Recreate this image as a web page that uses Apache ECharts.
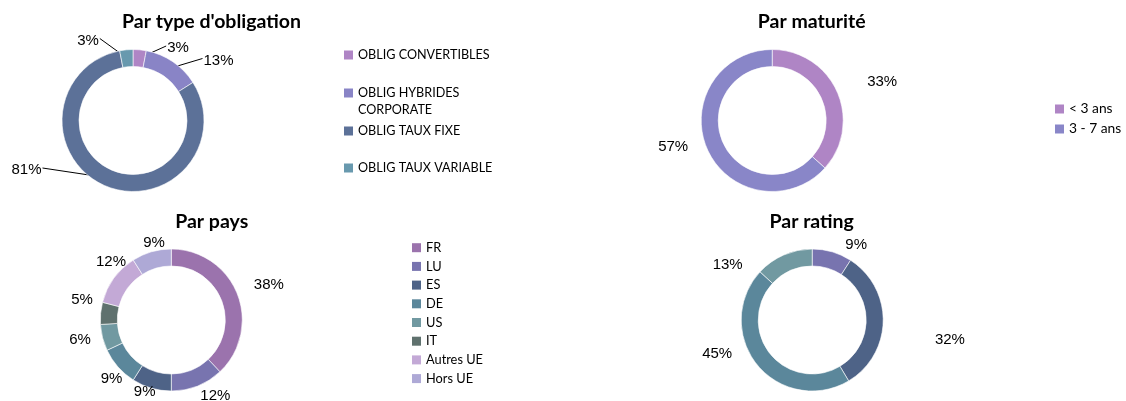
<!DOCTYPE html>
<html><head><meta charset="utf-8">
<script src="https://cdn.jsdelivr.net/npm/echarts@6/dist/echarts.min.js"></script>
<style>html,body{margin:0;padding:0;background:#fff}#c{width:1126px;height:401px}</style>
</head><body><div id="c"></div>
<script>
// ---------- DATA ----------
const typeCategories = ['OBLIG CONVERTIBLES', 'OBLIG HYBRIDES CORPORATE', 'OBLIG TAUX FIXE', 'OBLIG TAUX VARIABLE'];
const typeValues = [3, 13, 81, 3];
const maturityCategories = ['< 3 ans', '3 - 7 ans'];
const maturityValues = [33, 57];
const countryCategories = ['FR', 'LU', 'ES', 'DE', 'US', 'IT', 'Autres UE', 'Hors UE'];
const countryValues = [38, 12, 9, 9, 6, 5, 12, 9];
const ratingCategories = ['Catégorie 1', 'Catégorie 2', 'Catégorie 3', 'Catégorie 4'];
const ratingValues = [9, 32, 45, 13];

// ---------- STYLE ----------
const typeColors = ['#AF85C5', '#8984C6', '#5C7198', '#6899AE'];
const maturityColors = ['#AF85C5', '#8986C8'];
const countryColors = ['#9B73AD', '#7874AF', '#4E6387', '#5B879B', '#7199A1', '#5F716E', '#C3A9D6', '#AEA9D6'];
const ratingColors = ['#7874AF', '#4E6387', '#5B879B', '#7199A1'];

// ---------- LAYOUT (pie centres, label placement relative to centre) ----------
const PIES = [
  { center: [133, 120.5], leader: true,
    labelOffsets: [[45, -72.5], [85.5, -60], [-106.5, 49.5], [-45, -80]] },
  { center: [772.2, 120.5],
    labelOffsets: [[110, -38.8], [-99, 26.2]] },
  { center: [171.3, 320],
    labelOffsets: [[97.5, -35.3], [44, 75.5], [-26.6, 72], [-59.7, 59], [-91.3, 20], [-89.3, -20], [-60.3, -58], [-17.3, -77]] },
  { center: [812.2, 320],
    labelOffsets: [[44, -75], [137.7, 20], [-95, 34], [-84.5, -55]] }
];

const chart = echarts.init(document.getElementById('c'), null, { renderer: 'canvas' });

function makeLabelLayout(i) {
  const cfg = PIES[i];
  return function (params) {
    const off = cfg.labelOffsets[params.dataIndex];
    const x = cfg.center[0] + off[0], y = cfg.center[1] + off[1];
    const res = { x: x, y: y, align: 'center', verticalAlign: 'middle' };
    if (cfg.leader) {
      const lay = chart.getModel().getSeriesByIndex(params.seriesIndex).getData().getItemLayout(params.dataIndex);
      const mid = (lay.startAngle + lay.endAngle) / 2, rm = (lay.r + lay.r0) / 2;
      const px = lay.cx + rm * Math.cos(mid), py = lay.cy + rm * Math.sin(mid);
      const hw = params.labelRect.width / 2;
      const ex = x + (px > x ? hw + 1 : -hw - 1), ey = y - 2;
      res.labelLinePoints = [[px, py], [ex, ey], [ex, ey]];
    }
    return res;
  };
}

function pieSeries(i, name, cats, vals, colors) {
  return {
    type: 'pie', name: name, center: PIES[i].center, radius: [54, 71],
    startAngle: 90, clockwise: true, avoidLabelOverlap: false, animation: false,
    itemStyle: { borderColor: '#ffffff', borderWidth: 0.6 },
    label: { show: true, position: 'outside', formatter: '{c}%', fontFamily: 'Liberation Sans', fontSize: 15, color: '#000' },
    labelLine: { show: !!PIES[i].leader, length: 10, length2: 10, smooth: false, lineStyle: { color: '#000', width: 1 } },
    labelLayout: makeLabelLayout(i),
    emphasis: { disabled: true },
    data: cats.map((c, k) => ({ name: c, value: vals[k], itemStyle: { color: colors[k] } }))
  };
}

function legend(names, left, top, fontSize, lineHeight, extra) {
  return Object.assign({
    data: names, left: left, top: top, orient: 'vertical', icon: 'rect',
    itemWidth: 9, itemHeight: 9, padding: 0, selectedMode: false,
    itemStyle: { borderWidth: 0 },
    textStyle: { fontFamily: 'Lato', fontSize: fontSize, color: '#000', lineHeight: lineHeight }
  }, extra || {});
}

const titleStyle = { fontFamily: 'Lato', fontWeight: 'bold', fontSize: 19.5, color: '#000' };
function title(text, x, y) {
  return { text: text, left: x, top: y, textAlign: 'center', textVerticalAlign: 'middle', padding: 0, textStyle: titleStyle };
}

chart.setOption({
  backgroundColor: '#ffffff',
  title: [
    title("Par type d'obligation", 211.5, 22),
    title('Par maturité', 811.7, 22),
    title('Par pays', 211.7, 222),
    title('Par rating', 811.7, 222)
  ],
  legend: [
    legend([typeCategories[0]], 344, 46.5, 12.6, 17),
    legend([typeCategories[1]], 344, 67.5, 12.6, 17, { formatter: n => '\n' + n.replace(' CORPORATE', '\nCORPORATE') }),
    legend([typeCategories[2]], 344, 122.5, 12.6, 17),
    legend([typeCategories[3]], 344, 159.5, 12.6, 17),
    legend(maturityCategories, 1055, 102, 13.8, 14, { itemGap: 6 }),
    legend(countryCategories, 412, 240.7, 12.8, 14, { itemGap: 4.7 })
  ],
  series: [
    pieSeries(0, "Par type d'obligation", typeCategories, typeValues, typeColors),
    pieSeries(1, 'Par maturité', maturityCategories, maturityValues, maturityColors),
    pieSeries(2, 'Par pays', countryCategories, countryValues, countryColors),
    pieSeries(3, 'Par rating', ratingCategories, ratingValues, ratingColors)
  ]
});
</script>
</body></html>
